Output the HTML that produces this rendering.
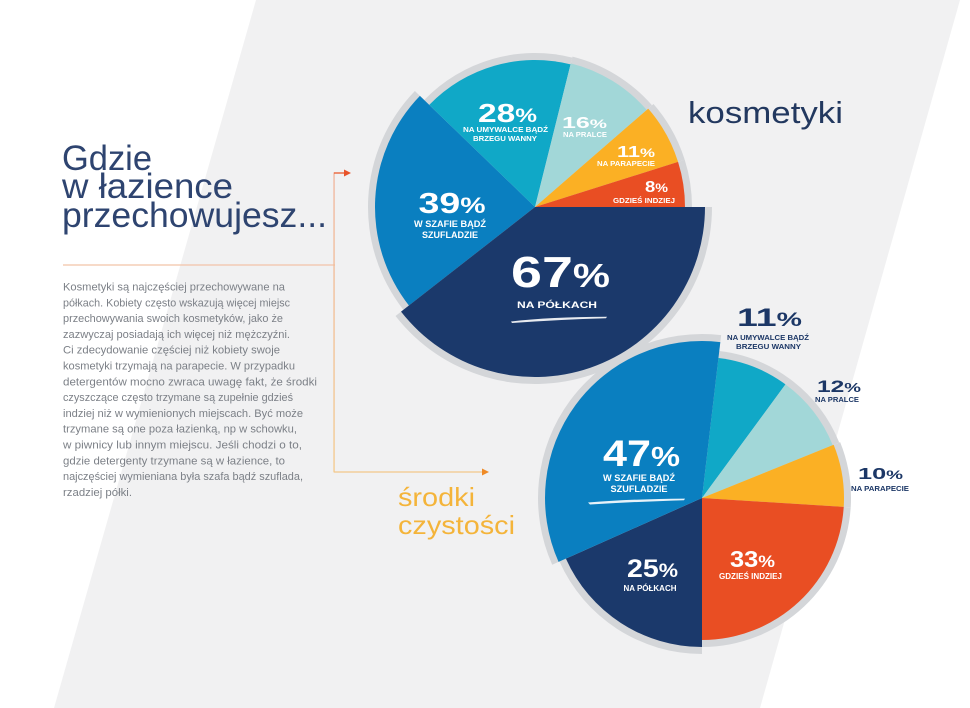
<!DOCTYPE html>
<html>
<head>
<meta charset="utf-8">
<style>
html,body{margin:0;padding:0;background:#ffffff;}
svg{display:block;}
</style>
</head>
<body>
<svg width="970" height="708" viewBox="0 0 970 708" xmlns="http://www.w3.org/2000/svg" font-family="'Liberation Sans', sans-serif">
  <defs>
    <linearGradient id="vline" x1="0" y1="0" x2="0" y2="1">
      <stop offset="0" stop-color="#f0b49c"/>
      <stop offset="1" stop-color="#f4c98a"/>
    </linearGradient>
  </defs>

  <!-- background -->
  <rect x="0" y="0" width="970" height="708" fill="#ffffff"/>
  <polygon points="256,0 960,0 760,708 54,708" fill="#f1f1f2"/>

  <!-- ===== TOP PIE (kosmetyki) ===== -->
  <g fill="#d4d6d9">
    <path d="M535,207 L712,207 A177,177 0 0 1 395.52,315.98 Z"/>
    <path d="M535,207 L403.40,309.82 A167,167 0 0 1 414.88,90.99 Z"/>
    <path d="M535,207 L424.23,100.02 A154,154 0 0 1 572.25,57.57 Z"/>
    <path d="M535,207 L572.49,56.60 A155,155 0 0 1 651.98,105.30 Z"/>
    <path d="M535,207 L653.49,103.99 A157,157 0 0 1 684.73,159.79 Z"/>
    <path d="M535,207 L684.73,159.79 A157,157 0 0 1 692,207 Z"/>
  </g>
  <path d="M535,207 L408.92,305.51 A160,160 0 0 1 419.91,95.85 Z" fill="#0a7fc0"/>
  <path d="M535,207 L429.26,104.88 A147,147 0 0 1 570.56,64.37 Z" fill="#10a8c7"/>
  <path d="M535,207 L570.80,63.40 A148,148 0 0 1 646.70,109.90 Z" fill="#a2d7d8"/>
  <path d="M535,207 L648.21,108.58 A150,150 0 0 1 678.06,161.89 Z" fill="#fbb024"/>
  <path d="M535,207 L678.06,161.89 A150,150 0 0 1 685,207 Z" fill="#e94e23"/>
  <path d="M535,207 L705,207 A170,170 0 0 1 401.04,311.67 Z" fill="#1b396b"/>

  <!-- top pie labels -->
  <g fill="#ffffff" font-weight="bold" text-anchor="middle">
    <text x="507.5" y="122" font-size="26" textLength="59" lengthAdjust="spacingAndGlyphs">28<tspan font-size="19">%</tspan></text>
    <text x="505.5" y="132" font-size="7.5" textLength="85" lengthAdjust="spacingAndGlyphs">NA UMYWALCE BĄDŹ</text>
    <text x="505" y="141" font-size="7.5" textLength="64" lengthAdjust="spacingAndGlyphs">BRZEGU WANNY</text>

    <text x="584.5" y="128" font-size="15.5" textLength="45" lengthAdjust="spacingAndGlyphs">16<tspan font-size="12">%</tspan></text>
    <text x="585" y="137" font-size="7.5" textLength="44" lengthAdjust="spacingAndGlyphs">NA PRALCE</text>

    <text x="636" y="157" font-size="15.5" textLength="38" lengthAdjust="spacingAndGlyphs">11<tspan font-size="12">%</tspan></text>
    <text x="626" y="166" font-size="7.5" textLength="58" lengthAdjust="spacingAndGlyphs">NA PARAPECIE</text>

    <text x="656.5" y="192" font-size="15.5" textLength="23" lengthAdjust="spacingAndGlyphs">8<tspan font-size="12">%</tspan></text>
    <text x="644" y="203" font-size="7.5" textLength="62" lengthAdjust="spacingAndGlyphs">GDZIEŚ INDZIEJ</text>

    <text x="452" y="213" font-size="29" textLength="67" lengthAdjust="spacingAndGlyphs">39<tspan font-size="22">%</tspan></text>
    <text x="450" y="227" font-size="8.8" textLength="72" lengthAdjust="spacingAndGlyphs">W SZAFIE BĄDŹ</text>
    <text x="450" y="238" font-size="8.8" textLength="56" lengthAdjust="spacingAndGlyphs">SZUFLADZIE</text>

    <text x="560.5" y="287" font-size="44" textLength="99" lengthAdjust="spacingAndGlyphs">67<tspan font-size="33">%</tspan></text>
    <text x="557" y="308" font-size="9.5" textLength="80" lengthAdjust="spacingAndGlyphs">NA PÓŁKACH</text>
  </g>
  <path d="M511,321.5 Q550,317 607,316.8 L606,318.2 Q560,319.5 512,323 Z" fill="#ffffff" opacity="0.9"/>

  <!-- ===== BOTTOM PIE (środki czystości) ===== -->
  <g fill="#d4d6d9">
    <path d="M702,498 L552.19,564.70 A164,164 0 0 1 721.14,335.12 Z"/>
    <path d="M702,498 L719.27,351.01 A148,148 0 0 1 789.62,378.73 Z"/>
    <path d="M702,498 L789.62,378.73 A148,148 0 0 1 839.23,442.56 Z"/>
    <path d="M702,498 L840.15,442.18 A149,149 0 0 1 850.70,507.36 Z"/>
    <path d="M702,498 L850.70,507.36 A149,149 0 0 1 702,647 Z"/>
    <path d="M702,498 L702,654 A156,156 0 0 1 559.49,561.45 Z"/>
  </g>
  <path d="M702,498 L718.45,357.96 A141,141 0 0 1 785.47,384.37 Z" fill="#10a8c7"/>
  <path d="M702,498 L785.47,384.37 A141,141 0 0 1 832.74,445.18 Z" fill="#a2d7d8"/>
  <path d="M702,498 L833.66,444.81 A142,142 0 0 1 843.72,506.92 Z" fill="#fbb024"/>
  <path d="M702,498 L843.72,506.92 A142,142 0 0 1 702,640 Z" fill="#e94e23"/>
  <path d="M702,498 L702,647 A149,149 0 0 1 565.89,558.60 Z" fill="#1b396b"/>
  <path d="M702,498 L558.58,561.85 A157,157 0 0 1 720.32,342.07 Z" fill="#0a7fc0"/>

  <!-- bottom pie inner labels -->
  <g fill="#ffffff" font-weight="bold" text-anchor="middle">
    <text x="641.5" y="466" font-size="37" textLength="77" lengthAdjust="spacingAndGlyphs">47<tspan font-size="28">%</tspan></text>
    <text x="639" y="481" font-size="9.5" textLength="72" lengthAdjust="spacingAndGlyphs">W SZAFIE BĄDŹ</text>
    <text x="639" y="492" font-size="9.5" textLength="57" lengthAdjust="spacingAndGlyphs">SZUFLADZIE</text>

    <text x="652.5" y="577" font-size="25" textLength="51" lengthAdjust="spacingAndGlyphs">25<tspan font-size="19">%</tspan></text>
    <text x="650" y="591" font-size="8" textLength="53" lengthAdjust="spacingAndGlyphs">NA PÓŁKACH</text>

    <text x="752.5" y="567" font-size="23" textLength="45" lengthAdjust="spacingAndGlyphs">33<tspan font-size="17">%</tspan></text>
    <text x="750.5" y="579" font-size="8" textLength="63" lengthAdjust="spacingAndGlyphs">GDZIEŚ INDZIEJ</text>
  </g>
  <path d="M588,502.5 Q630,499 685,498.6 L684,500.2 Q640,501.5 590,504.5 Z" fill="#ffffff" opacity="0.9"/>

  <!-- bottom pie outside labels -->
  <g fill="#1c3766" font-weight="bold">
    <text x="769.5" y="326" font-size="25" text-anchor="middle" textLength="65" lengthAdjust="spacingAndGlyphs">11<tspan font-size="19">%</tspan></text>
    <text x="768" y="340" font-size="7.5" text-anchor="middle" textLength="82" lengthAdjust="spacingAndGlyphs">NA UMYWALCE BĄDŹ</text>
    <text x="768.5" y="349" font-size="7.5" text-anchor="middle" textLength="65" lengthAdjust="spacingAndGlyphs">BRZEGU WANNY</text>

    <text x="817" y="392" font-size="17" textLength="44" lengthAdjust="spacingAndGlyphs">12<tspan font-size="13">%</tspan></text>
    <text x="815" y="402" font-size="7.5" textLength="44" lengthAdjust="spacingAndGlyphs">NA PRALCE</text>

    <text x="858" y="479" font-size="16" textLength="45" lengthAdjust="spacingAndGlyphs">10<tspan font-size="12">%</tspan></text>
    <text x="851" y="491" font-size="7.5" textLength="58" lengthAdjust="spacingAndGlyphs">NA PARAPECIE</text>
  </g>

  <!-- headings -->
  <text x="688" y="123" font-size="31" fill="#22385f" textLength="155" lengthAdjust="spacingAndGlyphs">kosmetyki</text>

  <g fill="#2e4470" font-size="35">
    <text x="62" y="170" textLength="90" lengthAdjust="spacingAndGlyphs">Gdzie</text>
    <text x="62" y="198" textLength="171" lengthAdjust="spacingAndGlyphs">w łazience</text>
    <text x="62" y="227" textLength="265" lengthAdjust="spacingAndGlyphs">przechowujesz...</text>
  </g>

  <g fill="#f4b43a" font-size="26">
    <text x="398" y="506" textLength="77" lengthAdjust="spacingAndGlyphs">środki</text>
    <text x="398" y="534" textLength="117" lengthAdjust="spacingAndGlyphs">czystości</text>
  </g>

  <!-- connectors -->
  <line x1="63" y1="265" x2="335" y2="265" stroke="#f2c4a8" stroke-width="1.2"/>
  <rect x="333.4" y="172.4" width="1.3" height="300" fill="url(#vline)"/>
  <line x1="334" y1="173" x2="345" y2="173" stroke="#ea5a2c" stroke-width="1.3"/>
  <polygon points="344,169.5 351,173 344,176.5" fill="#e8532a"/>
  <line x1="334" y1="472" x2="483" y2="472" stroke="#f4c88a" stroke-width="1.3"/>
  <polygon points="482,468.5 489,472 482,475.5" fill="#ef8a26"/>

  <!-- paragraph -->
  <g fill="#7c8087" font-size="11">
    <text x="63" y="290.5" textLength="222" lengthAdjust="spacingAndGlyphs">Kosmetyki są najczęściej przechowywane na</text>
    <text x="63" y="306.3" textLength="227" lengthAdjust="spacingAndGlyphs">półkach. Kobiety często wskazują więcej miejsc</text>
    <text x="63" y="322.1" textLength="220" lengthAdjust="spacingAndGlyphs">przechowywania swoich kosmetyków, jako że</text>
    <text x="63" y="337.9" textLength="227" lengthAdjust="spacingAndGlyphs">zazwyczaj posiadają ich więcej niż mężczyźni.</text>
    <text x="63" y="353.7" textLength="217" lengthAdjust="spacingAndGlyphs">Ci zdecydowanie częściej niż kobiety swoje</text>
    <text x="63" y="369.5" textLength="232" lengthAdjust="spacingAndGlyphs">kosmetyki trzymają na parapecie. W przypadku</text>
    <text x="63" y="385.3" textLength="254" lengthAdjust="spacingAndGlyphs">detergentów mocno zwraca uwagę fakt, że środki</text>
    <text x="63" y="401.1" textLength="230" lengthAdjust="spacingAndGlyphs">czyszczące często trzymane są zupełnie gdzieś</text>
    <text x="63" y="416.9" textLength="240" lengthAdjust="spacingAndGlyphs">indziej niż w wymienionych miejscach. Być może</text>
    <text x="63" y="432.7" textLength="234" lengthAdjust="spacingAndGlyphs">trzymane są one poza łazienką, np w schowku,</text>
    <text x="63" y="448.5" textLength="239" lengthAdjust="spacingAndGlyphs">w piwnicy lub innym miejscu. Jeśli chodzi o to,</text>
    <text x="63" y="464.3" textLength="222" lengthAdjust="spacingAndGlyphs">gdzie detergenty trzymane są w łazience, to</text>
    <text x="63" y="480.1" textLength="240" lengthAdjust="spacingAndGlyphs">najczęściej wymieniana była szafa bądź szuflada,</text>
    <text x="63" y="495.9" textLength="69" lengthAdjust="spacingAndGlyphs">rzadziej półki.</text>
  </g>
</svg>
</body>
</html>
